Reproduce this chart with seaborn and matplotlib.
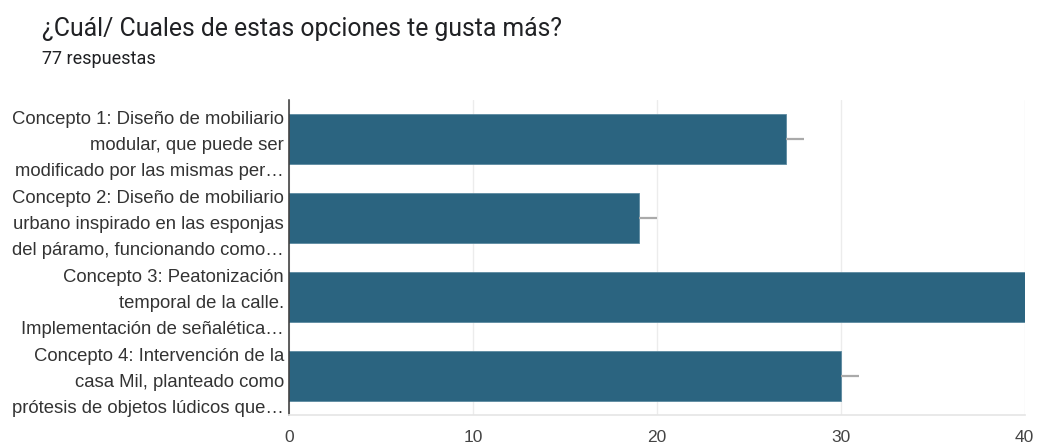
import matplotlib
matplotlib.use("Agg")
import matplotlib.pyplot as plt
import seaborn as sns
import pandas as pd

categories = [
    "Concepto 1: Diseño de mobiliario\nmodular, que puede ser\nmodificado por las mismas per…",
    "Concepto 2: Diseño de mobiliario\nurbano inspirado en las esponjas\ndel páramo, funcionando como…",
    "Concepto 3: Peatonización\ntemporal de la calle.\nImplementación de señalética…",
    "Concepto 4: Intervención de la\ncasa Mil, planteado como\nprótesis de objetos lúdicos que…",
]
values = [27, 19, 40, 30]
xticks = [0, 10, 20, 30, 40]

sns.set_theme(style="white")
plt.rcParams["font.family"] = ["Liberation Sans", "DejaVu Sans"]

df = pd.DataFrame({"cat": categories, "val": values})

fig = plt.figure(figsize=(10.37, 4.46), dpi=100)
ax = fig.add_axes([0.279, 0.0695, 0.709, 0.707])

sns.barplot(data=df, y="cat", x="val", color="#2b6480", saturation=1,
            width=0.63, ax=ax, orient="h", edgecolor="#5d8aa0", linewidth=0.6)

# leader lines of hidden data labels
for i, v in enumerate(values):
    ax.hlines(i, v, v + 1, color="#aaaaaa", linewidth=1.6, zorder=1, clip_on=True)

ax.set_xlim(0, 40)
ax.set_xticks(xticks)
ax.set_xticklabels([str(t) for t in xticks], fontsize=12.5, color="#444444")
ax.tick_params(axis="x", length=0, pad=11)
ax.tick_params(axis="y", length=0, pad=4)
for lab in ax.get_yticklabels():
    lab.set_fontsize(13.3)
    lab.set_color("#333333")
    lab.set_linespacing(1.7)
ax.set_xlabel("")
ax.set_ylabel("")
ax.grid(axis="x", color="#ececec", linewidth=1)
ax.set_axisbelow(True)
for s in ["top", "right"]:
    ax.spines[s].set_visible(False)
ax.spines["bottom"].set_color("#e6e6e6")
ax.spines["left"].set_color("#333333")
ax.spines["left"].set_linewidth(1.1)

fig.text(0.0405, 0.935, "¿Cuál/ Cuales de estas opciones te gusta más?",
         fontsize=17.8, color="#202124", family=["Roboto", "DejaVu Sans"], va="center")
fig.text(0.0405, 0.868, "77 respuestas", fontsize=13, color="#202124",
         family=["Roboto", "DejaVu Sans"], va="center")

fig.savefig("out.png", dpi=100, facecolor="white")
